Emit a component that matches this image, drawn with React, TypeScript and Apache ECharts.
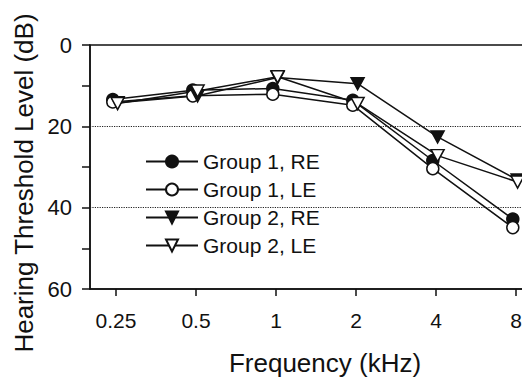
import React, { useEffect, useRef } from "react";
import * as echarts from "echarts";

const freqLabels = ["0.25", "0.5", "1", "2", "4", "8"];
const seriesNames = ["Group 1, RE", "Group 1, LE", "Group 2, RE", "Group 2, LE"];
const g1RE = [13.4, 11.1, 10.7, 13.6, 28.4, 42.8];
const g1LE = [14.0, 12.5, 12.1, 14.8, 30.4, 44.9];
const g2RE = [14.2, 12.5, 8.0, 9.5, 22.6, 33.2];
const g2LE = [14.4, 11.3, 7.8, 14.4, 27.2, 33.7];
const yLabels = [0, 20, 40, 60];
const refLines = [20, 40];
const xTitle = "Frequency (kHz)";
const yTitle = "Hearing Threshold Level (dB)";

const FONT = "'Liberation Sans', Arial, Helvetica, sans-serif";
const DOWN_TRI = "path://M0,0 L12,0 L6,11 Z";

export default function App() {
  const ref = useRef<HTMLDivElement>(null);
  useEffect(() => {
    if (!ref.current) return;
    const chart = echarts.init(ref.current, null, { renderer: "svg" });
    const mk = (
      name: string,
      vals: number[],
      dodge: number,
      symbol: string,
      fill: string,
      size: number | number[],
      extra: any = {}
    ) => ({
      name,
      type: "line",
      data: vals.map((v, i) => [i + dodge, v]),
      symbol,
      symbolSize: size,
      showAllSymbol: true,
      lineStyle: { color: "#111", width: 1.5 },
      itemStyle: { color: fill, borderColor: "#111", borderWidth: 1.5 },
      emphasis: { disabled: true },
      z: 3,
      ...extra,
    });
    chart.setOption({
      animation: false,
      textStyle: { fontFamily: FONT },
      grid: {
        left: 90,
        top: 45,
        width: 445,
        height: 244,
        containLabel: false,
        outerBoundsMode: "none",
        show: true,
        borderColor: "#111",
        borderWidth: 1.5,
        backgroundColor: "transparent",
      },
      graphic: [
        {
          type: "text",
          x: 24,
          y: 183,
          rotation: Math.PI / 2,
          style: {
            text: yTitle,
            fontSize: 26,
            fontFamily: FONT,
            fill: "#111",
            textAlign: "center",
            textVerticalAlign: "middle",
          },
        },
      ],
      legend: {
        orient: "vertical",
        left: 140,
        top: 146,
        itemWidth: 52,
        itemHeight: 15,
        itemGap: 7,
        data: seriesNames,
        textStyle: { fontSize: 21, color: "#111", fontFamily: FONT },
        selectedMode: false,
      },
      xAxis: {
        type: "value",
        min: -0.325,
        max: 5.2375,
        axisLine: { show: true, onZero: false, lineStyle: { color: "#111", width: 1.5 } },
        axisTick: {
          show: true,
          inside: false,
          length: 7,
          customValues: [0, 1, 2, 3, 4, 5],
          lineStyle: { color: "#111", width: 1.5 },
        },
        axisLabel: {
          customValues: [0, 1, 2, 3, 4, 5],
          formatter: (v: number) => freqLabels[Math.round(v)] ?? "",
          fontSize: 21,
          color: "#111",
          margin: 21,
          fontFamily: FONT,
        },
        splitLine: { show: false },
        name: xTitle,
        nameLocation: "middle",
        nameGap: 61,
        nameTextStyle: { fontSize: 26, color: "#111", fontFamily: FONT, padding: [0, 0, 0, 25] },
      },
      yAxis: {
        type: "value",
        inverse: true,
        min: 0,
        max: 60,
        interval: 10,
        axisLine: { show: true, onZero: false, lineStyle: { color: "#111", width: 1.5 } },
        axisTick: {
          show: true,
          inside: false,
          length: 8,
          lineStyle: { color: "#111", width: 1.5 },
        },
        axisLabel: {
          formatter: (v: number) => (yLabels.includes(v) ? String(v) : ""),
          fontSize: 22,
          color: "#111",
          margin: 18,
          fontFamily: FONT,
        },
        splitLine: { show: false },
      },
      series: [
        mk(seriesNames[0], g1RE, -0.04, "circle", "#111", 12, {
          markLine: {
            silent: true,
            symbol: "none",
            label: { show: false },
            lineStyle: { type: "dotted", color: "#222", width: 1.2 },
            data: refLines.map((y) => ({ yAxis: y })),
          },
        }),
        mk(seriesNames[1], g1LE, -0.04, "circle", "#fff", 12),
        mk(seriesNames[2], g2RE, 0.02, DOWN_TRI, "#111", [13, 12]),
        mk(seriesNames[3], g2LE, 0.02, DOWN_TRI, "#fff", [13, 12]),
      ],
    });
    return () => chart.dispose();
  }, []);
  return <div ref={ref} style={{ width: 530, height: 377, marginLeft: -8, marginTop: -8 }} />;
}
